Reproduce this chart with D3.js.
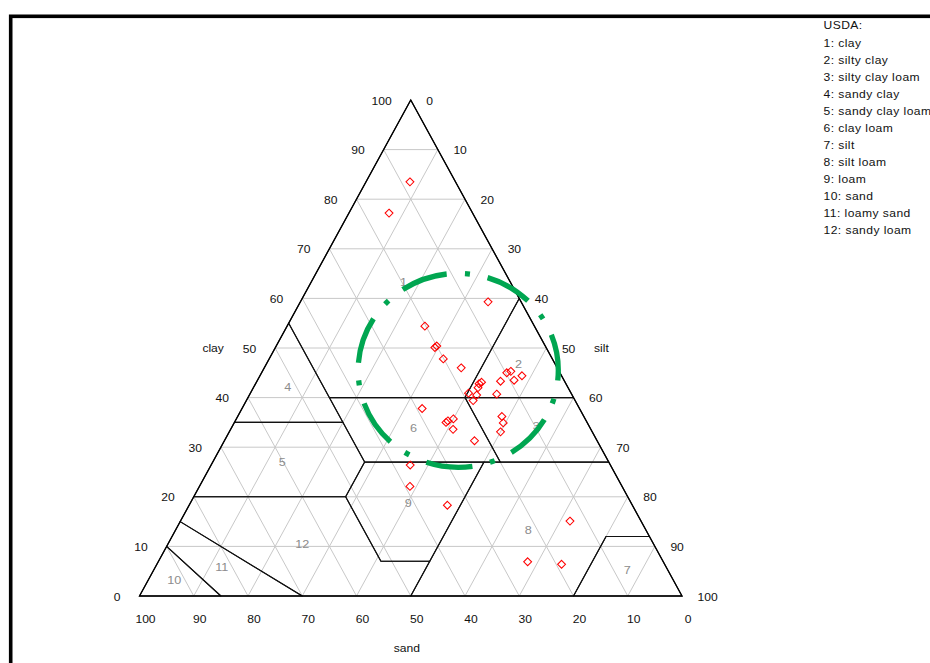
<!DOCTYPE html>
<html>
<head>
<meta charset="utf-8">
<script src="https://cdn.jsdelivr.net/npm/d3@7"></script>
<style>
  html, body { margin: 0; padding: 0; background: #fff; }
  svg { display: block; font-family: "Liberation Sans", Arial, sans-serif; }
</style>
</head>
<body>
<svg id="chart" width="930" height="663"></svg>
<script>
// ---- tick labels (percent) ----
const tickValues = [0, 10, 20, 30, 40, 50, 60, 70, 80, 90, 100];
const gridValues = [10, 20, 30, 40, 50, 60, 70, 80, 90];

// ---- legend ----
const legendTitle = "USDA:";
const textureClasses = [
  "clay", "silty clay", "silty clay loam", "sandy clay", "sandy clay loam",
  "clay loam", "silt", "silt loam", "loam", "sand", "loamy sand", "sandy loam"
];

// ---- soil samples (percent clay / silt / sand) ----
const sampleClay = [83.5, 77.2, 59.3, 54.4, 50.1, 50.4, 47.8, 46.0, 45.0, 45.3, 43.5, 44.4,
                    43.3, 42.0, 43.1, 42.8, 40.9, 40.5, 39.4, 40.7, 37.8, 35.3, 35.0, 35.7,
                    33.6, 36.2, 34.9, 33.1, 31.3, 26.4, 22.1, 18.3, 15.1, 6.9, 6.4];
const sampleSilt = [8.1, 7.4, 34.6, 25.4, 29.4, 29.6, 32.1, 36.3, 45.2, 45.8, 47.3, 48.3,
                    44.9, 41.4, 41.5, 41.2, 40.2, 41.9, 41.8, 45.5, 33.2, 39.2, 39.0, 40.0,
                    41.0, 48.7, 49.6, 50.0, 46.1, 36.7, 38.8, 47.6, 71.8, 68.1, 74.6];
const sampleSand = [8.4, 15.4, 6.1, 20.2, 20.5, 20.0, 20.1, 17.7, 9.8, 8.9, 9.2, 7.3,
                    11.8, 16.6, 15.4, 16.0, 18.9, 17.6, 18.8, 13.8, 29.0, 25.5, 26.0, 24.3,
                    25.4, 15.1, 15.5, 16.9, 22.6, 36.9, 39.1, 34.1, 13.1, 25.0, 19.0];

// ---- USDA texture class boundaries, vertices as [clay, silt] ----
const classPolygons = [
  [[100, 0], [60, 40], [40, 40], [40, 15], [55, 0]],                 // 1 clay
  [[60, 40], [40, 60], [40, 40]],                                    // 2 silty clay
  [[40, 60], [27, 73], [27, 53], [40, 40]],                          // 3 silty clay loam
  [[55, 0], [35, 0], [35, 20]],                                      // 4 sandy clay
  [[35, 0], [35, 20], [27, 28], [20, 28], [20, 0]],                  // 5 sandy clay loam
  [[40, 40], [27, 53], [27, 28], [40, 15]],                          // 6 clay loam
  [[12, 88], [12, 80], [0, 80], [0, 100]],                           // 7 silt
  [[27, 73], [27, 50], [0, 50], [0, 80], [12, 80], [12, 88]],        // 8 silt loam
  [[27, 50], [27, 28], [20, 28], [7, 41], [7, 50]],                  // 9 loam
  [[0, 0], [10, 0], [0, 15]],                                        // 10 sand
  [[10, 0], [15, 0], [0, 30], [0, 15]],                              // 11 loamy sand
  [[20, 0], [20, 28], [7, 41], [7, 50], [0, 50], [0, 30], [15, 0]]   // 12 sandy loam
];
// class number anchors inside each region, as [clay, silt]
const classLabelAnchors = [
  [63.3, 17.0], [46.7, 46.5], [34.3, 56.0], [42.1, 6.3], [27.0, 12.8], [33.8, 33.6],
  [5.2, 87.3], [13.3, 65.0], [18.7, 40.2], [3.2, 4.8], [5.9, 12.2], [10.4, 24.8]
];

// ---- layout ----
const svg = d3.select("#chart");
const xScale = d3.scaleLinear().domain([0, 100]).range([139.5, 682]);
const yScale = d3.scaleLinear().domain([0, 100]).range([596, 100]);
// ternary (clay, silt) -> screen
function project(clay, silt) {
  return [xScale(silt + clay / 2), yScale(clay)];
}
const line = d3.line();
const TEXT_STRETCH = 1.1;

function addText(g, x, y, str, anchor, opts = {}) {
  return g.append("text")
    .attr("transform", `translate(${x},${y}) scale(${TEXT_STRETCH},1)`)
    .attr("text-anchor", anchor)
    .attr("font-size", opts.size || 11)
    .attr("fill", opts.fill || "#111")
    .attr("letter-spacing", opts.spacing || null)
    .text(str);
}

// outer frame
svg.append("rect")
  .attr("x", 10.7).attr("y", 16.3)
  .attr("width", 1000).attr("height", 1000)
  .attr("fill", "none").attr("stroke", "#000").attr("stroke-width", 3.6);

// grid
const grid = svg.append("g").attr("stroke", "#c8c8c8").attr("stroke-width", 1).attr("fill", "none");
gridValues.forEach(k => {
  grid.append("path").attr("d", line([project(k, 0), project(k, 100 - k)]));          // clay
  grid.append("path").attr("d", line([project(100 - k, k), project(0, k)]));          // silt
  grid.append("path").attr("d", line([project(0, 100 - k), project(100 - k, 0)]));    // sand
});

// texture class boundaries
svg.append("g")
  .selectAll("path")
  .data(classPolygons)
  .join("path")
  .attr("d", poly => line(poly.map(v => project(v[0], v[1]))) + "Z")
  .attr("fill", "none")
  .attr("stroke", "#111")
  .attr("stroke-width", 1.1)
  .attr("stroke-linejoin", "round");

// triangle outline
svg.append("path")
  .attr("d", line([project(0, 0), project(0, 100), project(100, 0)]) + "Z")
  .attr("fill", "none").attr("stroke", "#000").attr("stroke-width", 1.3);

// tick labels
const ticks = svg.append("g");
tickValues.forEach(v => {
  const [cx, cy] = project(v, 0);
  addText(ticks, cx - 19, cy + 4.5, String(v), "end");
  const [sx, sy] = project(100 - v, v);
  addText(ticks, sx + 15.5, sy + 4.5, String(v), "start");
  const [bx, by] = project(0, 100 - v);
  addText(ticks, bx + 6, by + 27, String(v), "middle");
});

// axis titles
{
  const [lx, ly] = project(50, 0);
  addText(svg, lx - 62, ly + 4, "clay", "middle");
  const [rx, ry] = project(50, 50);
  addText(svg, rx + 55, ry + 4, "silt", "middle");
  const [bx, by] = project(0, 50);
  addText(svg, bx - 4, by + 56, "sand", "middle");
}

// class numbers
const classLabels = svg.append("g");
classLabelAnchors.forEach((a, i) => {
  const [x, y] = project(a[0], a[1]);
  addText(classLabels, x, y + 4, String(i + 1), "middle", { fill: "#8c8c8c", size: 11.5 });
});

// samples
const diamond = {
  draw(ctx, size) {
    const r = Math.sqrt(size / 2);
    ctx.moveTo(0, -r); ctx.lineTo(r, 0); ctx.lineTo(0, r); ctx.lineTo(-r, 0); ctx.closePath();
  }
};
const samples = sampleClay.map((c, i) => ({ clay: c, silt: sampleSilt[i], sand: sampleSand[i] }));
svg.append("g")
  .selectAll("path")
  .data(samples)
  .join("path")
  .attr("transform", d => { const [x, y] = project(d.clay, d.silt); return `translate(${x},${y})`; })
  .attr("d", d3.symbol().type(diamond).size(31))
  .attr("fill", "none")
  .attr("stroke", "#ff0000")
  .attr("stroke-width", 1.05);

// highlight ring around the clay / silty clay cluster
{
  const [ex, ey] = project(45.5, 36.0);
  const rx = xScale(18.45) - xScale(0);
  const ry = yScale(0) - yScale(19.55);
  const ring = svg.append("ellipse")
    .attr("cx", ex).attr("cy", ey).attr("rx", rx).attr("ry", ry)
    .attr("fill", "none")
    .attr("stroke", "#00a651")
    .attr("stroke-width", 5.3)
    .attr("stroke-linecap", "butt");
  const L = ring.node().getTotalLength ? ring.node().getTotalLength() : 2 * Math.PI * Math.sqrt((rx * rx + ry * ry) / 2);
  const P = L / 7;
  const dash = 0.53 * P, gap1 = 0.21 * P, dot = 5, gap2 = P - dash - gap1 - dot;
  ring.attr("stroke-dasharray", `${dash} ${gap1} ${dot} ${gap2}`)
      .attr("stroke-dashoffset", L * 21.2 / 360);
}

// legend
const legend = svg.append("g");
addText(legend, 823.5, 29, legendTitle, "start", { spacing: "0.4px" });
textureClasses.forEach((name, i) => {
  addText(legend, 823.5, 46.5 + i * 17, `${i + 1}: ${name}`, "start", { spacing: "0.4px" });
});
</script>
</body>
</html>
